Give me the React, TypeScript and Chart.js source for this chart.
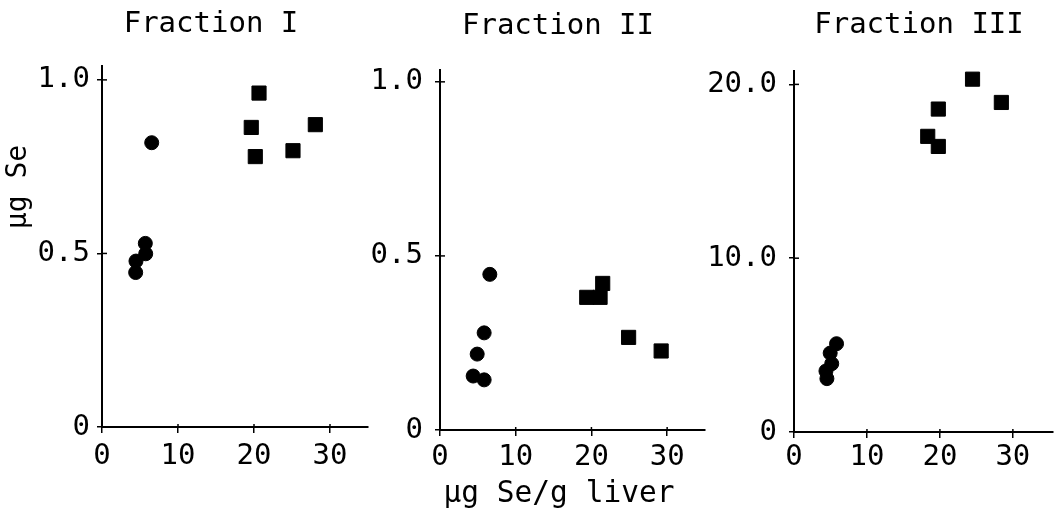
import React, { useEffect, useRef } from "react";
import { Chart, registerables } from "chart.js";
Chart.register(...registerables);

// ---- data ----
const xTicks = [0, 10, 20, 30];
const xTickLabels = ["0", "10", "20", "30"];

const f1CircleX = [6.54, 5.7, 5.75, 4.47, 4.43];
const f1CircleY = [0.819, 0.529, 0.499, 0.478, 0.445];
const f1SquareX = [20.66, 19.64, 20.17, 25.13, 28.07];
const f1SquareY = [0.962, 0.863, 0.779, 0.796, 0.871];

const f2CircleX = [6.58, 5.83, 4.91, 4.38, 5.83];
const f2CircleY = [0.447, 0.279, 0.218, 0.155, 0.144];
const f2SquareX = [19.38, 21.14, 21.49, 24.91, 29.21];
const f2SquareY = [0.381, 0.381, 0.421, 0.266, 0.227];

const f3CircleX = [5.83, 4.96, 5.17, 4.38, 4.51];
const f3CircleY = [5.08, 4.54, 3.93, 3.51, 3.07];
const f3SquareX = [24.47, 28.42, 19.78, 18.33, 19.78];
const f3SquareY = [20.3, 18.96, 18.58, 17.01, 16.43];

const ySmallTicks = [0, 0.5, 1.0];
const ySmallTickLabels = ["0", "0.5", "1.0"];
const yLargeTicks = [0, 10, 20];
const yLargeTickLabels = ["0", "10.0", "20.0"];

const titles = ["Fraction I", "Fraction II", "Fraction III"];
const yAxisLabel = "µg Se";
const xAxisLabel = "µg Se/g liver";

const FONT = "'DejaVu Sans Mono', 'Liberation Mono', monospace";
const H = 511;

type TextItem = { text: string; x: number; y: number; rot: number; size: number; baseline: CanvasTextBaseline };

type Panel = {
  cx: number[];
  cy: number[];
  sx: number[];
  sy: number[];
  yTicks: number[];
  yTickLabels: string[];
  yMax: number;
  xMax: number;
  left: number;
  width: number;
  padTop: number;
  padR: number;
  yWidth: number;
  xHeight: number;
  yPad: number;
  xPad: number;
  texts: TextItem[];
};

const panels: Panel[] = [
  {
    cx: f1CircleX, cy: f1CircleY, sx: f1SquareX, sy: f1SquareY,
    yTicks: ySmallTicks, yTickLabels: ySmallTickLabels, yMax: 1.04, xMax: 35,
    left: 0, width: 380, padTop: 66, padR: 12, yWidth: 102, xHeight: 84,
    yPad: 7, xPad: 6,
    texts: [
      { text: titles[0], x: 211, y: 24.5, rot: 0, size: 29, baseline: "middle" },
      { text: yAxisLabel, x: 19, y: 187, rot: -Math.PI / 2, size: 28, baseline: "middle" },
    ],
  },
  {
    cx: f2CircleX, cy: f2CircleY, sx: f2SquareX, sy: f2SquareY,
    yTicks: ySmallTicks, yTickLabels: ySmallTickLabels, yMax: 1.034, xMax: 35,
    left: 360, width: 356, padTop: 70, padR: 10, yWidth: 80, xHeight: 81,
    yPad: 12, xPad: 4,
    texts: [
      { text: titles[1], x: 558, y: 26, rot: 0, size: 29, baseline: "middle" },
      { text: xAxisLabel, x: 559, y: 502, rot: 0, size: 29.5, baseline: "alphabetic" },
    ],
  },
  {
    cx: f3CircleX, cy: f3CircleY, sx: f3SquareX, sy: f3SquareY,
    yTicks: yLargeTicks, yTickLabels: yLargeTickLabels, yMax: 20.77, xMax: 35.5,
    left: 700, width: 364, padTop: 71, padR: 0, yWidth: 94, xHeight: 79,
    yPad: 12, xPad: 2,
    texts: [{ text: titles[2], x: 919, y: 25.5, rot: 0, size: 29, baseline: "middle" }],
  },
];

function makeInnerTicks() {
  return {
    id: "innerTicks",
    afterDatasetsDraw(chart: any) {
      const { ctx, chartArea, scales } = chart;
      ctx.save();
      ctx.strokeStyle = "#000";
      ctx.lineWidth = 1.5;
      const ys = scales.y;
      ys.ticks.forEach((t: any) => {
        const py = ys.getPixelForValue(t.value);
        ctx.beginPath();
        ctx.moveTo(chartArea.left, py);
        ctx.lineTo(chartArea.left + 5, py);
        ctx.stroke();
      });
      const xs = scales.x;
      xs.ticks.forEach((t: any) => {
        const px = xs.getPixelForValue(t.value);
        ctx.beginPath();
        ctx.moveTo(px, chartArea.bottom);
        ctx.lineTo(px, chartArea.bottom - 3);
        ctx.stroke();
      });
      ctx.restore();
    },
  };
}

function makeFreeText(items: TextItem[], offsetX: number) {
  return {
    id: "freeText",
    afterDraw(chart: any) {
      const ctx = chart.ctx;
      items.forEach((it) => {
        ctx.save();
        ctx.translate(it.x - offsetX, it.y);
        ctx.rotate(it.rot);
        ctx.font = `${it.size}px ${FONT}`;
        ctx.fillStyle = "#000";
        ctx.textAlign = "center";
        ctx.textBaseline = it.baseline;
        ctx.fillText(it.text, 0, 0);
        ctx.restore();
      });
    },
  };
}

function PanelChart({ p }: { p: Panel }) {
  const ref = useRef<HTMLCanvasElement>(null);
  useEffect(() => {
    if (!ref.current) return;
    const tickFont = { family: FONT, size: 29, weight: "normal" as const, lineHeight: 1.2 };
    const chart = new Chart(ref.current, {
      type: "scatter",
      data: {
        datasets: [
          {
            label: "circles",
            data: p.cx.map((x, i) => ({ x, y: p.cy[i] })),
            pointStyle: "circle",
            pointRadius: 7,
            pointBackgroundColor: "#000",
            pointBorderColor: "#000",
            pointBorderWidth: 1,
            clip: false as any,
          },
          {
            label: "squares",
            data: p.sx.map((x, i) => ({ x, y: p.sy[i] })),
            pointStyle: "rect",
            pointRadius: 10,
            pointBackgroundColor: "#000",
            pointBorderColor: "#000",
            pointBorderWidth: 1,
            clip: false as any,
          },
        ],
      },
      options: {
        animation: false,
        responsive: false,
        devicePixelRatio: 1,
        layout: { padding: { top: p.padTop, bottom: 0, left: 0, right: p.padR } },
        plugins: {
          legend: { display: false },
          tooltip: { enabled: false },
          title: { display: false },
        },
        scales: {
          x: {
            type: "linear",
            min: 0,
            max: p.xMax,
            afterBuildTicks: (s: any) => {
              s.ticks = xTicks.map((v) => ({ value: v }));
            },
            afterFit: (s: any) => {
              s.height = p.xHeight;
            },
            ticks: {
              color: "#000",
              font: tickFont,
              padding: p.xPad,
              maxRotation: 0,
              autoSkip: false,
              callback: (v: any) => xTickLabels[xTicks.indexOf(Number(v))] ?? "",
            },
            grid: { drawOnChartArea: false, drawTicks: true, tickLength: 6, color: "#000", lineWidth: 1.5 },
            border: { display: true, color: "#000", width: 2 },
          },
          y: {
            type: "linear",
            min: 0,
            max: p.yMax,
            afterBuildTicks: (s: any) => {
              s.ticks = p.yTicks.map((v) => ({ value: v }));
            },
            afterFit: (s: any) => {
              s.width = p.yWidth;
            },
            ticks: {
              color: "#000",
              font: tickFont,
              padding: p.yPad,
              autoSkip: false,
              callback: (v: any) => p.yTickLabels[p.yTicks.indexOf(Number(v))] ?? "",
            },
            grid: { drawOnChartArea: false, drawTicks: true, tickLength: 5, color: "#000", lineWidth: 1.5 },
            border: { display: true, color: "#000", width: 2 },
          },
        },
      },
      plugins: [makeInnerTicks(), makeFreeText(p.texts, p.left)],
    } as any);
    return () => chart.destroy();
  }, [p]);
  return (
    <canvas
      ref={ref}
      width={p.width}
      height={H}
      style={{ position: "absolute", left: p.left, top: 0, width: p.width, height: H }}
    />
  );
}

export default function App() {
  useEffect(() => {
    document.body.style.margin = "0";
  }, []);
  return (
    <div style={{ position: "relative", width: 1064, height: H, overflow: "hidden", background: "#fff" }}>
      {panels.map((p, i) => (
        <PanelChart key={i} p={p} />
      ))}
    </div>
  );
}
